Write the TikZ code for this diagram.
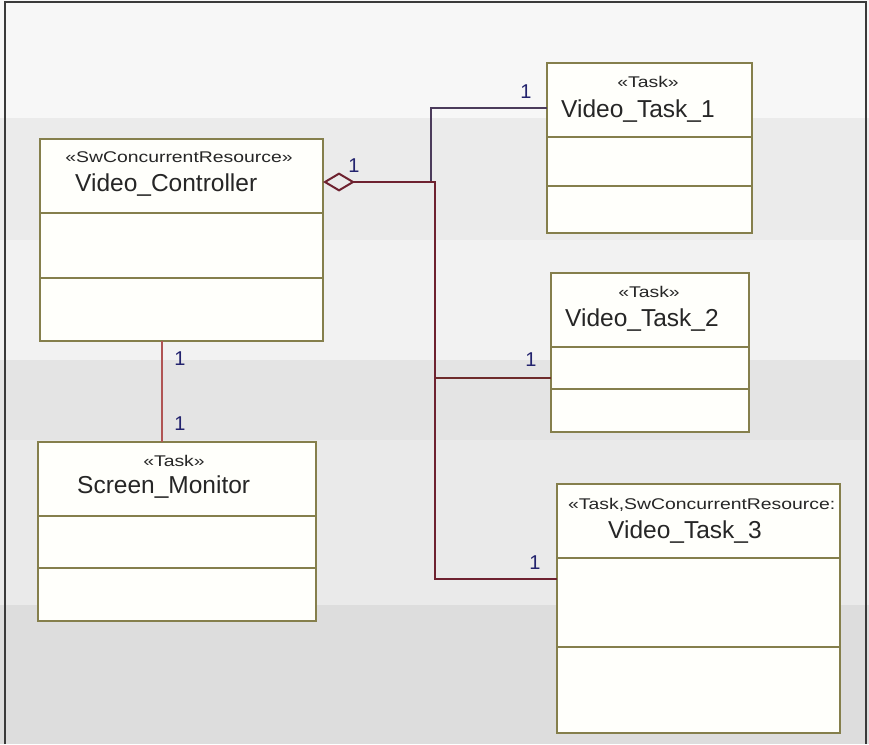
\documentclass[tikz,border=0pt]{standalone}
\usepackage{fontspec}
\setmainfont{Liberation Sans}
\newfontfamily\stereofont[FakeStretch=1.25]{Liberation Sans}
\usetikzlibrary{arrows.meta}
\definecolor{boxborder}{HTML}{857F4C}
\definecolor{boxfill}{HTML}{FFFFFB}
\definecolor{txt}{HTML}{262626}
\definecolor{mult}{HTML}{23236E}
\definecolor{trunk}{HTML}{6E2230}
\definecolor{branchtwo}{HTML}{6E2B2B}
\definecolor{branchone}{HTML}{4B3B5B}
\definecolor{smline}{HTML}{B05454}
\definecolor{framec}{HTML}{3A3A3A}
\definecolor{bandA}{HTML}{F7F7F7}
\definecolor{bandB}{HTML}{EBEBEB}
\definecolor{bandC}{HTML}{F2F2F2}
\definecolor{bandD}{HTML}{E4E4E4}
\definecolor{bandE}{HTML}{EAEAEA}
\definecolor{bandF}{HTML}{DDDDDD}
\begin{document}
\begin{tikzpicture}[x=1pt,y=-1pt,
  umlbox/.style={draw=boxborder, fill=boxfill, line width=1.8pt, anchor=north west, inner sep=0pt, outer sep=0pt},
  divider/.style={draw=boxborder, line width=1.6pt},
  stereo/.style={inner sep=0pt, text=txt, font=\stereofont\fontsize{15.5}{18}\selectfont},
  cname/.style={inner sep=0pt, text=txt, anchor=west, font=\fontsize{24.5}{28}\selectfont},
  multi/.style={inner sep=0pt, text=mult, font=\fontsize{20}{24}\selectfont},
  aggr/.style={draw=trunk, line width=2.6pt, {Diamond[open, length=32pt, width=19pt, line width=2pt]}-},
  assocone/.style={draw=branchone, line width=2pt},
  assoctwo/.style={draw=branchtwo, line width=2pt},
  assocsm/.style={draw=smline, line width=2pt}]
\useasboundingbox (0,0) rectangle (869,744);
% background bands
\fill[bandA] (0,0) rectangle (869,118);
\fill[bandB] (0,118) rectangle (869,240);
\fill[bandC] (0,240) rectangle (869,360);
\fill[bandD] (0,360) rectangle (869,440);
\fill[bandE] (0,440) rectangle (869,605);
\fill[bandF] (0,605) rectangle (869,744);
\draw[framec, line width=2pt] (4.5,744) -- (4.5,2) -- (866,2) -- (866,744);

% boxes
\node[umlbox, minimum width=283pt, minimum height=202pt] (vc) at (40,139) {};
\node[umlbox, minimum width=205pt, minimum height=170pt] (vt1) at (547,63) {};
\node[umlbox, minimum width=198pt, minimum height=159pt] (vt2) at (551,273) {};
\node[umlbox, minimum width=278pt, minimum height=179pt] (sm) at (38,442) {};
\node[umlbox, minimum width=283pt, minimum height=249pt] (vt3) at (557,484) {};

% compartments
\draw[divider] (vc.west |- 0,213) -- (vc.east |- 0,213);
\draw[divider] (vc.west |- 0,278) -- (vc.east |- 0,278);
\draw[divider] (vt1.west |- 0,137) -- (vt1.east |- 0,137);
\draw[divider] (vt1.west |- 0,186) -- (vt1.east |- 0,186);
\draw[divider] (vt2.west |- 0,347) -- (vt2.east |- 0,347);
\draw[divider] (vt2.west |- 0,389) -- (vt2.east |- 0,389);
\draw[divider] (sm.west |- 0,516) -- (sm.east |- 0,516);
\draw[divider] (sm.west |- 0,568) -- (sm.east |- 0,568);
\draw[divider] (vt3.west |- 0,558) -- (vt3.east |- 0,558);
\draw[divider] (vt3.west |- 0,647) -- (vt3.east |- 0,647);

% texts
\node[stereo] (vcst) at (179,157) {«SwConcurrentResource»};
\node[cname] (vcnm) at (75,185) {Video\_Controller};
\node[stereo] (vt1st) at (648,82) {«Task»};
\node[cname] (vt1nm) at (561,111) {Video\_Task\_1};
\node[stereo] (vt2st) at (649,292) {«Task»};
\node[cname] (vt2nm) at (565,320) {Video\_Task\_2};
\node[stereo] (smst) at (174,461) {«Task»};
\node[cname] (smnm) at (77,487) {Screen\_Monitor};
\node[stereo, anchor=west] (vt3st) at (568,505) {«Task,SwConcurrentResource:};
\node[cname] (vt3nm) at (608,532) {Video\_Task\_3};

% connectors
\coordinate (tt) at (435,182);
\coordinate (t2) at (435,378);
\coordinate (tb) at (435,579);
\coordinate (j1) at (431,108);
\coordinate (smx) at (162,0);
\draw[assocone] (vt1.west |- j1) -- (j1) -- (j1 |- tt);
\draw[assoctwo] (t2) -- (vt2.west |- t2);
\draw[aggr] (vc.east |- tt) -- (tt) -- (tb) -- (vt3.west |- tb);
\draw[assocsm] (vc.south -| smx) -- (sm.north -| smx);

% multiplicities
\node[multi] (m0) at (354,166) {1};
\node[multi] (m1) at (526,92) {1};
\node[multi] (m2) at (531,360) {1};
\node[multi] (m3) at (535,563) {1};
\node[multi] (m4) at (180,359) {1};
\node[multi] (m5) at (180,424) {1};
\end{tikzpicture}
\end{document}
